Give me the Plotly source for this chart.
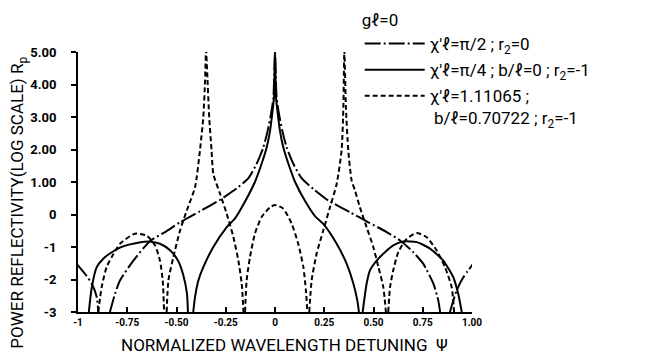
import plotly.graph_objects as go

# --- Data (log10 reflectivity vs normalized detuning) ---
# Series A: chi'l = pi/2 ; r2 = 0   (dash-dot)
a_x = [-1.007, -0.964, -0.93, -0.905, -0.897, None,
       -0.838, -0.812, -0.787, -0.719, -0.635, -0.558, -0.482, -0.381, -0.279, -0.254, -0.195,
       -0.135, -0.093, -0.059, -0.037, -0.020, -0.008, 0.0,
       0.008, 0.020, 0.037, 0.059, 0.093, 0.135, 0.195, 0.254, 0.279, 0.381, 0.474, 0.567, 0.635,
       0.702, 0.753, 0.804, 0.829, 0.838, None,
       0.888, 0.922, 0.956, 1.006]
a_y = [-1.52, -1.83, -2.13, -2.54, -3.0, None,
       -3.0, -2.44, -2.03, -1.42, -0.82, -0.54, -0.24, 0.10, 0.45, 0.55, 0.80,
       1.12, 1.56, 2.07, 2.58, 3.10, 3.61, 5.0,
       3.61, 3.10, 2.58, 2.07, 1.56, 1.12, 0.78, 0.50, 0.40, 0.07, -0.24, -0.54, -0.80,
       -1.16, -1.52, -2.13, -2.65, -3.0, None,
       -3.0, -2.34, -1.93, -1.52]

# Series B: chi'l = pi/4 ; b/l = 0 ; r2 = -1   (solid)
b_x = [-0.945, -0.93, -0.905, -0.872, -0.838, -0.787, -0.736, -0.645, -0.584, -0.533,
       -0.492, -0.467, -0.447, -0.442, None,
       -0.415, -0.406, -0.389, -0.364, -0.313, -0.245, -0.203, -0.152, -0.102, -0.068, -0.042,
       -0.025, -0.014, -0.005, 0.0,
       0.005, 0.014, 0.025, 0.042, 0.068, 0.102, 0.152, 0.203, 0.245, 0.313, 0.364, 0.398, 0.418,
       0.426, None,
       0.445, 0.465, 0.482, 0.516, 0.558, 0.600, 0.651, 0.720, 0.787, 0.854, 0.905, 0.930, 0.948]
b_y = [-3.0, -2.24, -1.62, -1.36, -1.20, -1.02, -0.92, -0.83, -0.90, -1.10,
       -1.42, -1.83, -2.43, -3.0, None,
       -3.0, -2.54, -2.03, -1.62, -1.00, -0.39, -0.12, 0.40, 1.00, 1.56, 2.07,
       2.58, 3.10, 3.61, 5.0,
       3.61, 3.10, 2.58, 2.07, 1.56, 1.00, 0.42, -0.05, -0.29, -0.90, -1.52, -2.13, -2.65,
       -3.0, None,
       -3.0, -2.13, -1.72, -1.42, -1.16, -0.95, -0.83, -0.85, -1.05, -1.42, -1.93, -2.44, -3.0]

# Series C: chi'l = 1.11065 ; b/l = 0.70722 ; r2 = -1   (dashed)
c_x = [-0.897, -0.88, -0.855, -0.829, -0.787, -0.711, -0.651, -0.609, -0.584, -0.57, -0.563, None,
       -0.55, -0.541, -0.516, -0.482, -0.448, -0.406, -0.381, -0.364, -0.355, -0.35,
       -0.344, -0.334, -0.322, -0.313, -0.279, -0.245, -0.211, -0.186, -0.169, -0.16, None,
       -0.152, -0.144, -0.127, -0.102, -0.068, -0.025, 0.0, 0.042, 0.085, 0.118, 0.144, 0.157,
       0.164, None,
       0.174, 0.186, 0.211, 0.245, 0.279, 0.313, 0.338, 0.347, 0.352,
       0.36, 0.372, 0.389, 0.406, 0.431, 0.465, 0.499, 0.525, 0.55, 0.563, None,
       0.575, 0.584, 0.600, 0.626, 0.668, 0.719, 0.770, 0.821, 0.863, 0.897, 0.909]
c_y = [-3.0, -2.24, -1.62, -1.31, -0.90, -0.59, -0.65, -0.95, -1.42, -2.03, -3.0, None,
       -3.0, -2.03, -1.31, -0.49, 0.12, 0.84, 1.97, 2.99, 4.12, 5.05,
       4.33, 2.99, 1.97, 1.25, 0.64, 0.02, -0.70, -1.42, -2.13, -3.0, None,
       -3.0, -2.03, -1.31, -0.59, -0.08, 0.22, 0.29, 0.18, -0.29, -0.90, -1.62, -2.34,
       -3.0, None,
       -3.0, -2.03, -1.21, -0.49, 0.22, 0.94, 1.97, 3.30, 5.05,
       3.30, 1.97, 1.05, 0.74, 0.22, -0.39, -1.00, -1.62, -2.24, -3.0, None,
       -3.0, -2.24, -1.72, -1.16, -0.75, -0.57, -0.70, -1.11, -1.62, -2.24, -3.0]

x_tickvals = [-1, -0.75, -0.5, -0.25, 0, 0.25, 0.5, 0.75, 1.0]
x_ticktext = ["-1", "-0.75", "-0.50", "-0.25", "0", "0.25", "0.50", "0.75", "1.00"]
y_tickvals = [-3, -2, -1, 0, 1, 2, 3, 4, 5]
y_ticktext = ["-3", "-2", "-1", "0", "1.00", "2.00", "3.00", "4.00", "5.00"]

series_names = ["χ′ℓ=π/2 ; r<sub>2</sub>=0",
                "χ′ℓ=π/4 ; b/ℓ=0 ; r<sub>2</sub>=-1",
                "χ′ℓ=1.11065 ;<br>\u00a0b/ℓ=0.70722 ; r<sub>2</sub>=-1"]
legend_title = "gℓ=0"
x_title = "NORMALIZED WAVELENGTH DETUNING  Ψ"
y_title = "POWER REFLECTIVITY(LOG SCALE) R<sub>p</sub>"

FONT = "Roboto, Liberation Sans, sans-serif"

dashes = ["16px,3px,2px,3px", "solid", "5px,3px"]
series = [(a_x, a_y), (b_x, b_y), (c_x, c_y)]

fig = go.Figure()
for i, ((xs, ys), nm, ds) in enumerate(zip(series, series_names, dashes)):
    fig.add_trace(go.Scatter(x=xs, y=ys, mode="lines", name=nm, legendgroup=f"g{i}",
                             line=dict(color="black", width=2, dash=ds, shape="spline", smoothing=0.6),
                             connectgaps=False))

fig.update_layout(
    width=668, height=357,
    margin=dict(l=78, r=196, t=52, b=45, autoexpand=False),
    paper_bgcolor="white", plot_bgcolor="white",
    font=dict(family=FONT, color="black"),
    showlegend=True,
    legend=dict(x=0.715, y=1.185, xanchor="left", yanchor="top",
                title=dict(text=legend_title, font=dict(size=17, family=FONT)),
                font=dict(size=17, family=FONT), itemwidth=60, valign="top",
                bgcolor="rgba(0,0,0,0)", tracegroupgap=1),
    xaxis=dict(range=[-1, 1], tickvals=x_tickvals, ticktext=x_ticktext,
               showgrid=False, zeroline=False, showline=True, linecolor="black", linewidth=2,
               ticks="inside", ticklen=5, tickwidth=2, tickcolor="black",
               tickfont=dict(size=10, family=FONT, weight="bold"), fixedrange=True),
    yaxis=dict(range=[-3, 5], tickvals=y_tickvals, ticktext=y_ticktext,
               showgrid=False, zeroline=False, showline=True, linecolor="black", linewidth=2,
               ticks="outside", ticklen=5, tickwidth=2, tickcolor="black",
               ticklabelstandoff=12,
               tickfont=dict(size=13, family=FONT, weight="bold"), fixedrange=True),
    annotations=[
        dict(text=x_title, xref="paper", yref="paper",
             x=0.525, y=-0.127, xanchor="center", yanchor="middle", showarrow=False,
             font=dict(size=17, family=FONT)),
        dict(text=y_title, xref="paper", yref="paper",
             x=-0.15, y=0.42, xanchor="center", yanchor="middle", showarrow=False,
             textangle=-90, font=dict(size=17, family=FONT)),
    ],
)

fig.write_html("out.html")
